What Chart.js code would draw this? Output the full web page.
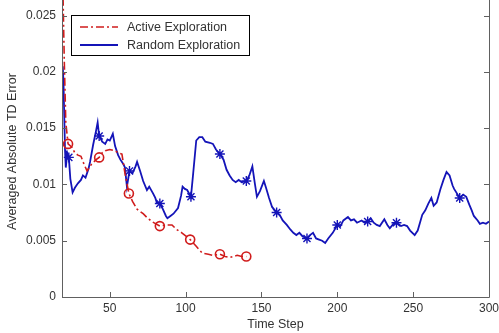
<!DOCTYPE html>
<html><head><meta charset="utf-8">
<script src="https://cdn.jsdelivr.net/npm/chart.js@4.4.1/dist/chart.umd.min.js"></script>
<style>html,body{margin:0;padding:0;background:#fff}#wrap{width:499px;height:333px}</style>
</head><body><div id="wrap"><canvas id="c" width="499" height="333"></canvas></div>
<script>
const xTicks = [50, 100, 150, 200, 250, 300];
const yTicks = [0, 0.005, 0.01, 0.015, 0.02, 0.025];

const activeSteps = [19, 20, 21, 22.5, 25, 27, 29, 31, 33, 35, 38, 41, 43, 45, 47, 50, 53, 56, 58, 60, 62.6, 65, 68, 72, 75, 79, 83, 87, 91, 94, 97.5, 103, 107, 111, 115, 118, 122.6, 126, 129, 134, 137, 140];
const activeValues = [0.028, 0.021, 0.0155, 0.0136, 0.0133, 0.0128, 0.0126, 0.0125, 0.0118, 0.0112, 0.0118, 0.0122, 0.0124, 0.0128, 0.013, 0.0131, 0.013, 0.0128, 0.0127, 0.011, 0.0092, 0.0085, 0.0078, 0.0074, 0.007, 0.0066, 0.0063, 0.0064, 0.0064, 0.006, 0.0057, 0.0051, 0.0045, 0.0039, 0.0038, 0.0037, 0.0038, 0.0036, 0.0035, 0.0037, 0.0036, 0.0036];
const activeMarkers = [22.5, 43, 62.6, 83, 103, 122.6, 140];

const randomSteps = [19, 19.5, 20, 20.5, 21, 22, 23, 24, 25.5, 27, 29, 31, 32.3, 34, 36, 37, 39, 41, 42, 43, 45, 47, 48.5, 50, 52, 53.5, 55.5, 57, 59, 60, 61.3, 63, 65, 67, 68, 70, 72, 74.5, 76, 78.5, 80, 81, 83, 85, 87, 88, 90, 92, 95, 97, 98, 99.5, 101, 103.5, 105, 107, 109, 111, 113, 116, 118, 120, 122.6, 125, 127, 129, 131, 133, 135, 137, 140, 142, 144, 145.5, 147, 149, 151.6, 153, 155, 157, 160, 162, 164, 166.7, 169, 171, 173, 175, 177, 180, 182, 184, 186, 188, 190, 192, 194, 197, 200, 202, 204, 207, 209, 211, 213, 216, 218, 220, 222, 224, 226, 228, 231, 233, 234.6, 237, 239, 242, 244, 246, 248, 251, 253, 256, 258, 260, 262, 263.5, 265.5, 268, 270, 272, 274, 276, 277, 280.7, 283, 285, 287, 288.6, 290, 292.5, 294, 296, 298, 300];
const randomValues = [0.0205, 0.019, 0.016, 0.013, 0.0115, 0.0128, 0.0124, 0.0105, 0.0093, 0.0097, 0.0101, 0.0104, 0.0108, 0.0106, 0.0114, 0.012, 0.0135, 0.0148, 0.0155, 0.0143, 0.0138, 0.0136, 0.014, 0.0139, 0.0145, 0.0134, 0.0126, 0.0122, 0.0118, 0.0115, 0.0098, 0.0112, 0.011, 0.0116, 0.012, 0.0112, 0.0103, 0.0095, 0.0098, 0.0092, 0.0088, 0.0084, 0.0083, 0.0078, 0.0072, 0.007, 0.0072, 0.0074, 0.0079, 0.009, 0.0098, 0.0096, 0.0095, 0.0089, 0.011, 0.0139, 0.0142, 0.0142, 0.0138, 0.0137, 0.0136, 0.0131, 0.0127, 0.0122, 0.0113, 0.0108, 0.0104, 0.0102, 0.0104, 0.0102, 0.0103, 0.0108, 0.0116, 0.0102, 0.0089, 0.0094, 0.0103, 0.0097, 0.0088, 0.008, 0.0075, 0.0073, 0.0068, 0.0064, 0.006, 0.0057, 0.0055, 0.0057, 0.0054, 0.0052, 0.0055, 0.0057, 0.0052, 0.0051, 0.005, 0.0048, 0.0052, 0.0057, 0.0064, 0.0063, 0.0068, 0.0071, 0.0068, 0.0069, 0.0066, 0.0068, 0.0066, 0.0067, 0.007, 0.0066, 0.0064, 0.0063, 0.0069, 0.0064, 0.0061, 0.0065, 0.0066, 0.0063, 0.0064, 0.0063, 0.0059, 0.0055, 0.0059, 0.0073, 0.0077, 0.0083, 0.0088, 0.0081, 0.0084, 0.0096, 0.0104, 0.0111, 0.0108, 0.0099, 0.0096, 0.0088, 0.0091, 0.0089, 0.0082, 0.0077, 0.0072, 0.0068, 0.0065, 0.0066, 0.0065, 0.0067];
const randomMarkers = [23, 43, 63, 83, 103.5, 122.6, 140, 160, 180, 200, 220, 239, 280.7];

const RED = '#d01c1c', BLUE = '#1414b8', AXIS = '#606060', TEXT = '#333333';
const FONT = "'Liberation Sans', Arial, sans-serif";

function toPoints(xs, ys) { return xs.map((x, i) => ({x: x, y: ys[i]})); }
function markerRadius(xs, marks, r) { return xs.map(x => marks.includes(x) ? r : 0); }

const legendPlugin = {
  id: 'boxLegend',
  afterDatasetsDraw(chart) {
    const ctx = chart.ctx;
    const x0 = 71, y0 = 15, w = 178, h = 40;
    ctx.save();
    ctx.fillStyle = '#fff';
    ctx.fillRect(x0, y0, w, h);
    ctx.strokeStyle = '#000';
    ctx.lineWidth = 1;
    ctx.strokeRect(x0 + 0.5, y0 + 0.5, w, h);
    chart.data.datasets.forEach((ds, i) => {
      const y = y0 + 12 + i * 18;
      ctx.strokeStyle = ds.borderColor;
      ctx.lineWidth = ds.borderWidth;
      ctx.setLineDash(ds.borderDash || []);
      ctx.beginPath(); ctx.moveTo(80, y); ctx.lineTo(118, y); ctx.stroke();
      ctx.setLineDash([]);
      ctx.fillStyle = TEXT;
      ctx.font = "12.5px " + FONT;
      ctx.textBaseline = 'middle';
      ctx.textAlign = 'left';
      ctx.fillText(ds.label, 127, y + 0.5);
    });
    ctx.restore();
  }
};

const frameTicks = {
  id: 'frameTicks',
  afterDraw(chart) {
    const ctx = chart.ctx, a = chart.chartArea;
    const xs = chart.scales.x, ys = chart.scales.y;
    ctx.save();
    ctx.strokeStyle = AXIS; ctx.lineWidth = 1;
    ctx.beginPath();
    ctx.moveTo(a.left + 0.5, 0); ctx.lineTo(a.left + 0.5, a.bottom + 0.5);
    ctx.lineTo(a.right + 0.5, a.bottom + 0.5); ctx.lineTo(a.right + 0.5, 0);
    xTicks.forEach(v => { const p = Math.round(xs.getPixelForValue(v)) + 0.5; ctx.moveTo(p, a.bottom); ctx.lineTo(p, a.bottom - 5); });
    yTicks.forEach(v => { const p = Math.round(ys.getPixelForValue(v)) + 0.5; ctx.moveTo(a.left, p); ctx.lineTo(a.left + 5, p); ctx.moveTo(a.right, p); ctx.lineTo(a.right - 5, p); });
    ctx.stroke();
    ctx.restore();
  }
};

new Chart(document.getElementById('c'), {
  type: 'line',
  data: {
    datasets: [
      { label: 'Active Exploration', data: toPoints(activeSteps, activeValues), borderColor: RED, backgroundColor: 'rgba(0,0,0,0)',
        borderWidth: 1.6, borderDash: [8, 3, 2, 3], pointStyle: 'circle', pointRadius: markerRadius(activeSteps, activeMarkers, 4.5),
        pointBorderColor: RED, pointBackgroundColor: 'rgba(255,255,255,0)', pointBorderWidth: 1.6, tension: 0,
        clip: { left: 0, right: 0, top: 6, bottom: 0 } },
      { label: 'Random Exploration', data: toPoints(randomSteps, randomValues), borderColor: BLUE, backgroundColor: 'rgba(0,0,0,0)',
        borderWidth: 1.8, pointStyle: 'star', pointRadius: markerRadius(randomSteps, randomMarkers, 5),
        pointBorderColor: BLUE, pointBackgroundColor: BLUE, pointBorderWidth: 1.4, tension: 0 }
    ]
  },
  options: {
    responsive: false, animation: false, devicePixelRatio: 1,
    layout: { padding: { top: 0, right: 10, left: 0, bottom: 0 } },
    plugins: { legend: { display: false }, tooltip: { enabled: false } },
    scales: {
      x: {
        type: 'linear', min: 18.5, max: 300,
        grid: { display: false, drawTicks: false }, border: { display: false },
        afterBuildTicks: s => { s.ticks = xTicks.map(v => ({value: v})); },
        afterFit: s => { s.height = 36; s.paddingLeft = 0; s.paddingRight = 0; },
        ticks: { color: TEXT, font: { family: FONT, size: 12 }, padding: 4, maxRotation: 0 },
        title: { display: true, text: 'Time Step', color: TEXT, font: { family: FONT, size: 12.5 }, padding: { top: 0, bottom: 1 } }
      },
      y: {
        type: 'linear', min: 0, max: 0.02584,
        grid: { display: false, drawTicks: false }, border: { display: false },
        afterBuildTicks: s => { s.ticks = yTicks.map(v => ({value: v})); },
        afterFit: s => { s.width = 62; s.paddingTop = 0; s.paddingBottom = 0; },
        ticks: { color: TEXT, font: { family: FONT, size: 12 }, padding: 6, callback: v => String(+(+v).toFixed(3)) },
        title: { display: true, text: 'Averaged Absolute TD Error', color: TEXT, font: { family: FONT, size: 12.5 }, padding: { top: 5, bottom: 0 } }
      }
    }
  },
  plugins: [frameTicks, legendPlugin]
});
</script></body></html>
